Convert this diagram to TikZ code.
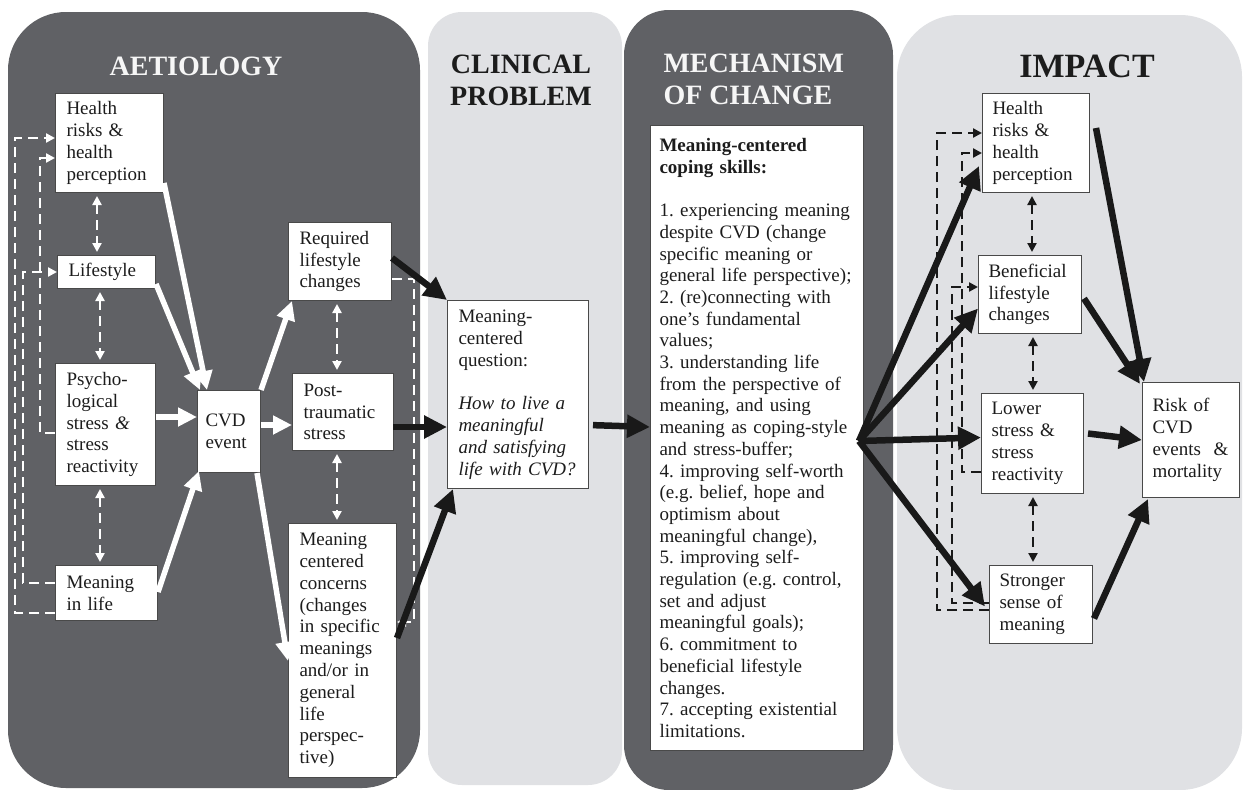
\documentclass[tikz,border=0pt]{standalone}
\usepackage{fontspec}
\setmainfont{Liberation Serif}
\usetikzlibrary{arrows.meta,calc}
\definecolor{darkpanel}{RGB}{96,97,101}
\definecolor{lightpanel}{RGB}{224,225,228}
\definecolor{inkc}{RGB}{28,28,28}
\definecolor{titlewhite}{RGB}{246,246,246}
\begin{document}
\frenchspacing
\hyphenpenalty=10000
\begin{tikzpicture}[x=1pt,y=-1pt,
  wbox/.style={draw=inkc!80, line width=1pt, fill=white, text=inkc, align=left,
    inner xsep=11pt, inner ysep=2pt, anchor=north west,
    font=\fontsize{19}{21.8}\selectfont},
  ttl/.style={font=\fontsize{28}{32}\selectfont\bfseries, align=center},
  warr/.style={draw=white, line width=5.5pt, -{Triangle[length=19pt,width=18pt]}},
  karr/.style={draw=black!90, line width=6.5pt, -{Triangle[length=23pt,width=22pt]}},
  wdash/.style={draw=white, line width=2.8pt, dash pattern=on 10pt off 6pt,
    {Triangle[length=9pt,width=9pt]}-{Triangle[length=9pt,width=9pt]},
    shorten <=3pt, shorten >=3pt},
  kdash/.style={draw=black!90, line width=2.8pt, dash pattern=on 10pt off 6pt,
    {Triangle[length=9pt,width=9pt]}-{Triangle[length=9pt,width=9pt]},
    shorten <=3pt, shorten >=3pt},
  fbw/.style={draw=white, line width=2.8pt, dash pattern=on 10pt off 6pt,
    -{Triangle[length=9pt,width=9pt]}},
  fbk/.style={draw=black!90, line width=2.8pt, dash pattern=on 10pt off 6pt,
    -{Triangle[length=9pt,width=9pt]}}
]
\useasboundingbox (0,0) rectangle (1248,790);
\fill[white] (0,0) rectangle (1248,790);
% panels
\fill[darkpanel, rounded corners=58pt] (8,12) rectangle (420,788);
\fill[lightpanel, rounded corners=34pt] (428,12) rectangle (622,785);
\fill[darkpanel, rounded corners=45pt] (624,10) rectangle (893,790);
\fill[lightpanel, rounded corners=62pt] (897,15) rectangle (1242,790);
% titles
\node[ttl, text=titlewhite] (t1) at (196,66) {AETIOLOGY};
\node[ttl, text=inkc] (t2) at (521,80) {CLINICAL\\PROBLEM};
\node[ttl, text=titlewhite, align=left, anchor=west] (t3) at (660,79) {MECHANISM\\OF CHANGE};
\node[ttl, text=inkc, font=\fontsize{34}{36}\selectfont\bfseries] (t4) at (1087,66) {IMPACT};
% aetiology boxes
\node[wbox, text width=86pt, minimum height=99pt] (hl) at (55,93) {Health\\risks \&\\health\\perception};
\node[wbox, text width=76pt, minimum height=33pt] (ls) at (57,255) {Lifestyle};
\node[wbox, text width=78pt, minimum height=122pt] (ps) at (55,363) {Psycho-\\logical\\stress \textit{\&}\\stress\\reactivity};
\node[wbox, text width=80pt, minimum height=55pt] (ml) at (55,565) {Meaning\\in life};
\node[wbox, inner xsep=8pt, text width=47pt, minimum height=82pt] (cvd) at (197,390) {CVD\\event};
\node[wbox, text width=81pt, minimum height=78pt] (rq) at (288,222) {Required\\lifestyle\\changes};
\node[wbox, text width=79pt, minimum height=77pt] (pt) at (292,373) {Post-\\traumatic\\stress};
\node[wbox, text width=86pt, minimum height=254pt] (mc) at (288,523) {Meaning\\centered\\concerns\\(changes\\in specific\\meanings\\and/or in\\general\\life\\perspec-\\tive)};
% clinical box
\node[wbox, text width=119pt, minimum height=188pt] (q) at (447,300) {Meaning-\\centered\\question:\\[21.8pt]\textit{How to live a}\\\textit{meaningful}\\\textit{and satisfying}\\\textit{life with CVD?}};
% mechanism box
\node[wbox, inner xsep=9pt, text width=195pt, minimum height=625pt, font=\fontsize{19}{21.7}\selectfont] (mech) at (650,125) {\textbf{Meaning-centered}\\\textbf{coping skills:}\\[21.7pt]1. experiencing meaning\\despite CVD (change\\specific meaning or\\general life perspective);\\2. (re)connecting with\\one’s fundamental\\values;\\3. understanding life\\from the perspective of\\meaning, and using\\meaning as coping-style\\and stress-buffer;\\4. improving self-worth\\(e.g. belief, hope and\\optimism about\\meaningful change),\\5. improving self-\\regulation (e.g. control,\\set and adjust\\meaningful goals);\\6. commitment to\\beneficial lifestyle\\changes.\\7. accepting existential\\limitations.};
% impact boxes
\node[wbox, inner xsep=10pt, text width=87pt, minimum height=99pt] (hr) at (982,93) {Health\\risks \&\\health\\perception};
\node[wbox, inner xsep=10pt, text width=83pt, minimum height=78pt] (bl) at (978,255) {Beneficial\\lifestyle\\changes};
\node[wbox, inner xsep=10pt, text width=82pt, minimum height=100pt] (lo) at (981,393) {Lower\\stress \&\\stress\\reactivity};
\node[wbox, inner xsep=10pt, text width=83pt, minimum height=78pt] (sg) at (989,565) {Stronger\\sense of\\meaning};
\node[wbox, inner xsep=10pt, text width=77pt, minimum height=115pt] (rk) at (1142,382) {Risk of\\CVD\\events\ \ \&\\mortality};
% white feedback dashed lines (left)
\draw[fbw] ($(ml.south west)+(0,-8)$) -- ($(ml.south west)+(-40,-8)$) |- ($(hl.north west)+(0,45)$);
\draw[fbw] ($(ps.north west)+(0,70)$) -- ($(ps.north west)+(-15,70)$) |- ($(hl.north west)+(0,65)$);
\draw[fbw] ($(ml.north west)+(0,18)$) -- ($(ml.north west)+(-32,18)$) |- (ls.west);
\draw[fbw] ($(rq.south east)+(0,-22)$) -- ($(rq.south east)+(22,-22)$) |- ($(mc.north east)+(0,99)$);
% white bidirectional dashed
\draw[wdash] ($(hl.south west)+(42,0)$) -- ($(ls.north west)+(40,0)$);
\draw[wdash] ($(ls.south west)+(43,0)$) -- ($(ps.north west)+(45,0)$);
\draw[wdash] ($(ps.south west)+(45,0)$) -- ($(ml.north west)+(45,0)$);
\draw[wdash] ($(rq.south west)+(49,0)$) -- ($(pt.north west)+(45,0)$);
\draw[wdash] ($(pt.south west)+(45,0)$) -- ($(mc.north west)+(49,0)$);
% white arrows
\draw[warr] ($(hl.south east)+(0,-10)$) -- ($(cvd.north west)+(10,0)$);
\draw[warr] ($(ls.south east)+(0,-5)$) -- ($(cvd.north west)+(3,0)$);
\draw[warr] ($(ps.north east)+(0,54)$) -- ($(cvd.north west)+(0,27)$);
\draw[warr] ($(ml.north east)+(0,27)$) -- ($(cvd.south west)+(2,-2)$);
\draw[warr] (cvd.north east) -- ($(rq.south west)+(4,0)$);
\draw[warr] ($(cvd.north east)+(0,35)$) -- ($(pt.north west)+(0,52)$);
\draw[warr] ($(cvd.south east)+(-4,0)$) -- ($(mc.north west)+(0,138)$);
% black arrows
\draw[karr] ($(rq.north east)+(0,36)$) -- (q.north west);
\draw[karr] ($(pt.north west)+(101,54)$) -- ($(q.north west)+(0,127)$);
\draw[karr] ($(mc.north east)+(0,115)$) -- ($(q.south west)+(6,0)$);
\draw[karr, shorten <=4pt] ($(q.north east)+(0,125)$) -- ($(mech.north west)+(0,302)$);
\coordinate (fan) at ($(mech.east)+(-5,3)$);
\draw[karr] (fan) -- ($(hr.south west)+(-3,-27)$);
\draw[karr] (fan) -- ($(bl.west)+(0,14)$);
\draw[karr] (fan) -- ($(lo.west)+(0,-6)$);
\draw[karr] (fan) -- ($(sg.west)+(-4,2)$);
\draw[karr] ($(hr.north east)+(6,35)$) -- ($(rk.north west)+(2,0)$);
\draw[karr] ($(bl.east)+(2,4)$) -- ($(rk.north west)+(-2,2)$);
\draw[karr] ($(lo.east)+(4,-10)$) -- (rk.west);
\draw[karr] ($(sg.east)+(1,14)$) -- ($(rk.south west)+(6,1)$);
% black bidirectional dashed
\draw[kdash] ($(hr.south west)+(50,0)$) -- ($(bl.north west)+(54,0)$);
\draw[kdash] ($(bl.south west)+(55,0)$) -- ($(lo.north west)+(52,0)$);
\draw[kdash] ($(lo.south west)+(52,0)$) -- ($(sg.north west)+(44,0)$);
% black feedback dashed lines (right)
\draw[fbk] ($(sg.north west)+(0,45)$) -- ($(sg.north west)+(-52,45)$) |- ($(hr.north west)+(0,40)$);
\draw[fbk] ($(lo.north west)+(0,79)$) -- ($(lo.north west)+(-19,79)$) |- ($(hr.north west)+(0,60)$);
\draw[fbk] ($(sg.north west)+(0,38)$) -- ($(sg.north west)+(-37,38)$) |- ($(bl.north west)+(0,32)$);
\end{tikzpicture}
\end{document}
